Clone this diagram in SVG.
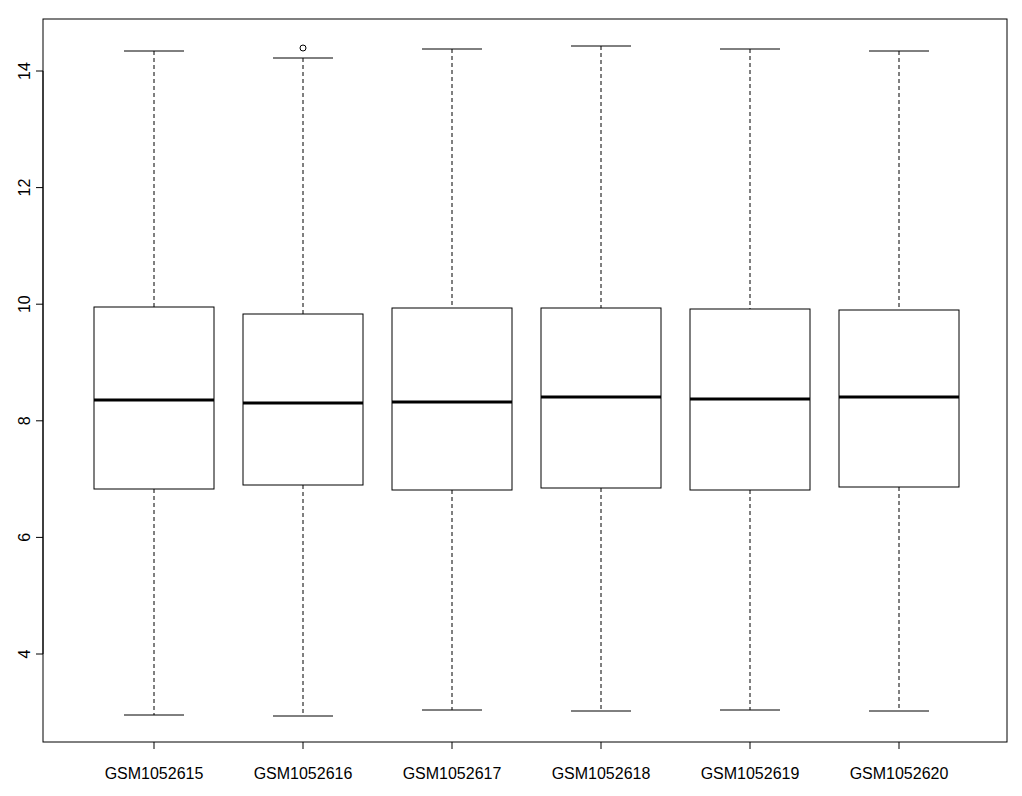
<svg xmlns="http://www.w3.org/2000/svg" width="1022" height="796" viewBox="0 0 1022 796">
<style>
.ax{stroke:#000;stroke-width:1;fill:none}
.box{stroke:#000;stroke-width:1;fill:#fff}
.wh{stroke:#000;stroke-width:1;stroke-dasharray:4,3}
.med{stroke:#000;stroke-width:3}
text{font-family:"Liberation Sans",Arial,sans-serif;font-size:16px;fill:#000}
</style>
<rect width="1022" height="796" fill="#fff"/>
<g id="axes">
<rect class="ax" x="43" y="19" width="964" height="723"/>
<path class="ax" d="M43 71H36M43 187.6H36M43 304.2H36M43 420.8H36M43 537.4H36M43 654H36M43 71V654"/>
<text transform="translate(30,71) rotate(-90)" text-anchor="middle">14</text>
<text transform="translate(30,187.6) rotate(-90)" text-anchor="middle">12</text>
<text transform="translate(30,304.2) rotate(-90)" text-anchor="middle">10</text>
<text transform="translate(30,420.8) rotate(-90)" text-anchor="middle">8</text>
<text transform="translate(30,537.4) rotate(-90)" text-anchor="middle">6</text>
<text transform="translate(30,654) rotate(-90)" text-anchor="middle">4</text>
<path class="ax" d="M154 742v7M303 742v7M452 742v7M601 742v7M750 742v7M899 742v7"/>
<g text-anchor="middle">
<text x="154" y="779">GSM1052615</text>
<text x="303" y="779">GSM1052616</text>
<text x="452" y="779">GSM1052617</text>
<text x="601" y="779">GSM1052618</text>
<text x="750" y="779">GSM1052619</text>
<text x="899" y="779">GSM1052620</text>
</g>
</g>
<g id="connectors">
<path class="wh" d="M154 51V307M154 489V715M303 58V314M303 485V716M452 49V308M452 490V710M601 46V308M601 488V711M750 49V309M750 490V710M899 51V310M899 487V711"/>
<path class="ax" d="M124 51h60M124 715h60M273 58h60M273 716h60M422 49h60M422 710h60M571 46h60M571 711h60M720 49h60M720 710h60M869 51h60M869 711h60"/>
</g>
<g id="b1"><rect class="box" x="94" y="307" width="120" height="182"/><path class="med" d="M94 400h120"/></g>
<g id="b2"><rect class="box" x="243" y="314" width="120" height="171"/><path class="med" d="M243 403h120"/><circle cx="303" cy="48" r="3" class="ax"/></g>
<g id="b3"><rect class="box" x="392" y="308" width="120" height="182"/><path class="med" d="M392 402h120"/></g>
<g id="b4"><rect class="box" x="541" y="308" width="120" height="180"/><path class="med" d="M541 397h120"/></g>
<g id="b5"><rect class="box" x="690" y="309" width="120" height="181"/><path class="med" d="M690 399h120"/></g>
<g id="b6"><rect class="box" x="839" y="310" width="120" height="177"/><path class="med" d="M839 397h120"/></g>
</svg>
